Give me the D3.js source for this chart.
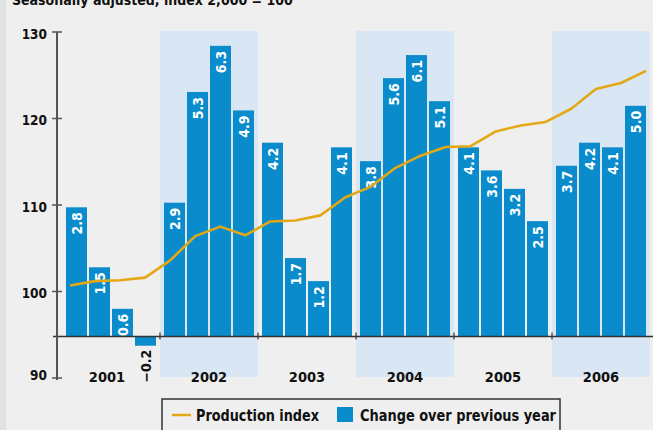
<!DOCTYPE html>
<html>
<head>
<meta charset="utf-8">
<script src="https://cdn.jsdelivr.net/npm/d3@7"></script>
<style>
  html, body { margin: 0; padding: 0; background: #efefef; }
  svg { display: block; }
  text { font-family: "DejaVu Sans Condensed", "Liberation Sans", sans-serif; font-weight: bold; }
</style>
</head>
<body>
<script>
// Quarterly industrial production, 2001–2006
const years = [2001, 2002, 2003, 2004, 2005, 2006];
const quarters = [0, 1, 2, 3];
const shadedYears = [2002, 2004, 2006];

// Change over previous year, % (one value per quarter)
const changeValues = [
  2.8, 1.5, 0.6, -0.2,
  2.9, 5.3, 6.3, 4.9,
  4.2, 1.7, 1.2, 4.1,
  3.8, 5.6, 6.1, 5.1,
  4.1, 3.6, 3.2, 2.5,
  3.7, 4.2, 4.1, 5.0
];
const changeLabels = [
  "2.8", "1.5", "0.6", "\u22120.2",
  "2.9", "5.3", "6.3", "4.9",
  "4.2", "1.7", "1.2", "4.1",
  "3.8", "5.6", "6.1", "5.1",
  "4.1", "3.6", "3.2", "2.5",
  "3.7", "4.2", "4.1", "5.0"
];

// Production index, seasonally adjusted (2000 = 100)
const indexValues = [
  100.7, 101.2, 101.3, 101.6,
  103.6, 106.4, 107.5, 106.5,
  108.1, 108.2, 108.8, 110.9,
  112.1, 114.3, 115.7, 116.7,
  116.8, 118.5, 119.2, 119.6,
  121.1, 123.4, 124.1, 125.5
];

const yTicks = [90, 100, 110, 120, 130];
const title = "Seasonally adjusted, index 2,000 = 100";
const legendItems = ["Production index", "Change over previous year"];

const W = 653, H = 430;
const colors = {
  bg: "#efefef", strip: "#e2e2e2", shade: "#d9e6f3",
  bar: "#0a8bcc", line: "#e4a814", axis: "#555555", text: "#111111"
};

const svg = d3.select("body").append("svg").attr("width", W).attr("height", H);

svg.append("rect").attr("width", W).attr("height", H).attr("fill", colors.bg);
svg.append("rect").attr("width", 6).attr("height", H).attr("fill", colors.strip);

// Scales
const x = d3.scaleBand().domain(years).range([62, 650]);
const xq = d3.scaleBand().domain(quarters).range([0, x.bandwidth()])
  .paddingInner(2 / 23).paddingOuter(4 / 23);
const xLine = d3.scalePoint().domain(d3.range(indexValues.length))
  .range([x.range()[0] + 8, x.range()[1] - 4]);
const y = d3.scaleLinear().domain([90, 130]).range([378, 32]);
const yBar = d3.scaleLinear().domain([-0.9, 6.6]).range([378, 32]);

// Title (runs off the top edge of the panel)
svg.append("text").attr("x", 12).attr("y", 5)
  .attr("font-size", 14).attr("fill", colors.text).text(title);

// Shaded year bands
svg.append("g").selectAll("rect").data(shadedYears).join("rect")
  .attr("x", d => x(d)).attr("width", x.bandwidth())
  .attr("y", y(130) - 1).attr("height", y(90) - y(130))
  .attr("fill", colors.shade);

// Bars
const barData = changeValues.map((v, i) => ({
  year: years[Math.floor(i / 4)], q: i % 4, v, label: changeLabels[i]
}));
const barG = svg.append("g");
barG.selectAll("rect").data(barData).join("rect")
  .attr("x", d => x(d.year) + xq(d.q))
  .attr("width", xq.bandwidth())
  .attr("y", d => yBar(Math.max(0, d.v)))
  .attr("height", d => Math.abs(yBar(d.v) - yBar(0)))
  .attr("fill", colors.bar);

// Bar value labels, rotated
barG.selectAll("text").data(barData).join("text")
  .attr("transform", d => {
    const cx = x(d.year) + xq(d.q) + xq.bandwidth() / 2;
    const yy = d.v >= 0 ? yBar(d.v) + 5 : yBar(d.v) + 4;
    return `translate(${cx},${yy}) rotate(-90)`;
  })
  .attr("text-anchor", "end")
  .attr("dy", "0.36em")
  .attr("font-size", 14)
  .attr("fill", d => d.v >= 0 ? "#ffffff" : colors.text)
  .text(d => d.label);

// Baseline of the bars with year-boundary ticks
const axisG = svg.append("g").attr("stroke", "#333333");
axisG.append("line")
  .attr("x1", 53).attr("x2", W)
  .attr("y1", yBar(0)).attr("y2", yBar(0))
  .attr("stroke-width", 1.5);
axisG.selectAll("line.tick").data(years.slice(1)).join("line")
  .attr("class", "tick")
  .attr("x1", d => x(d)).attr("x2", d => x(d))
  .attr("y1", yBar(0) - 4).attr("y2", yBar(0) + 3)
  .attr("stroke-width", 1.2);

// Year labels
svg.append("g").selectAll("text").data(years).join("text")
  .attr("x", d => x(d) + x.bandwidth() / 2 - (d === years[0] ? 4 : 0))
  .attr("y", 382)
  .attr("text-anchor", "middle")
  .attr("font-size", 14.5)
  .attr("fill", colors.text)
  .text(d => d);

// Production index line
svg.append("path")
  .datum(indexValues)
  .attr("fill", "none")
  .attr("stroke", colors.line)
  .attr("stroke-width", 2.6)
  .attr("stroke-linejoin", "round")
  .attr("d", d3.line().x((d, i) => xLine(i)).y(d => y(d)));

// Left axis
const yAxisG = svg.append("g");
yAxisG.append("line")
  .attr("x1", 57).attr("x2", 57)
  .attr("y1", y(130)).attr("y2", y(90) + 2)
  .attr("stroke", colors.axis).attr("stroke-width", 2);
yAxisG.selectAll("line.tick").data(yTicks).join("line")
  .attr("class", "tick")
  .attr("x1", 52).attr("x2", 62)
  .attr("y1", d => y(d)).attr("y2", d => y(d))
  .attr("stroke", colors.axis).attr("stroke-width", 1.5);
yAxisG.selectAll("text").data(yTicks).join("text")
  .attr("x", 47).attr("y", d => y(d) + (d === 90 ? -3 : 2))
  .attr("dy", "0.35em")
  .attr("text-anchor", "end")
  .attr("font-size", 13.5)
  .attr("fill", colors.text)
  .text(d => d);

// Legend (condensed bold text squeezed to the box)
const lg = svg.append("g");
lg.append("rect")
  .attr("x", 162).attr("y", 399).attr("width", 398).attr("height", 40)
  .attr("fill", colors.bg).attr("stroke", "#333333").attr("stroke-width", 1.5);
lg.append("line")
  .attr("x1", 172).attr("x2", 191).attr("y1", 415).attr("y2", 415)
  .attr("stroke", colors.line).attr("stroke-width", 2.5);
lg.append("text").attr("x", 196).attr("y", 421)
  .attr("font-size", 16.5).attr("fill", colors.text)
  .attr("textLength", 123).attr("lengthAdjust", "spacingAndGlyphs")
  .text(legendItems[0]);
lg.append("rect")
  .attr("x", 337).attr("y", 407).attr("width", 16).attr("height", 15)
  .attr("fill", colors.bar);
lg.append("text").attr("x", 360).attr("y", 421)
  .attr("font-size", 16.5).attr("fill", colors.text)
  .attr("textLength", 196).attr("lengthAdjust", "spacingAndGlyphs")
  .text(legendItems[1]);
</script>
</body>
</html>
